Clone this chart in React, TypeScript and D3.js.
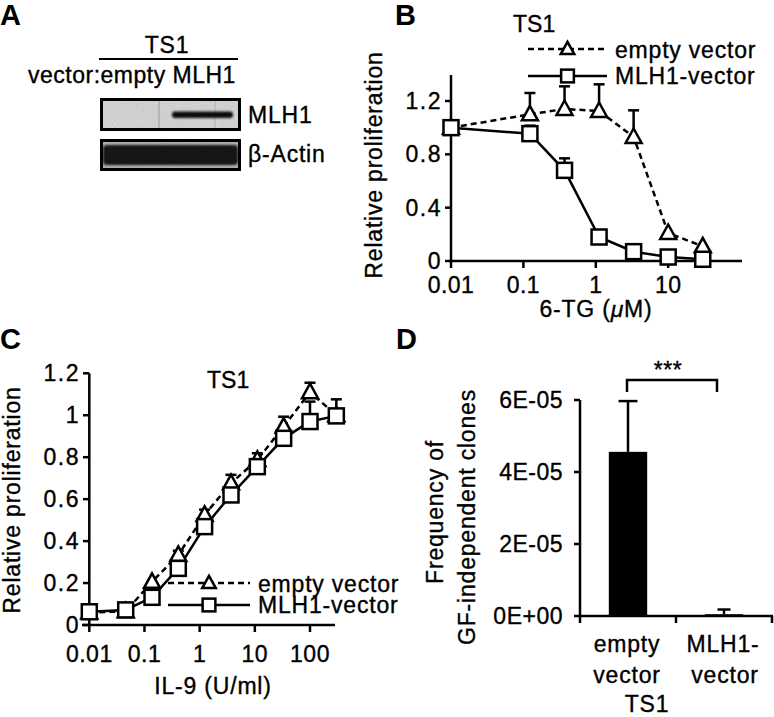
import React from "react";
import * as d3 from "d3";

// ---------- Data ----------
// Panel B: 6-TG dose response
const tgDose = [0.01, 0.123, 0.37, 1.11, 3.33, 10, 30];
const tgEmpty = [1.0, 1.1, 1.14, 1.125, 0.93, 0.21, 0.11];
const tgEmptyErr = [0, 0.16, 0.17, 0.2, 0.2, 0, 0];
const tgMLH1 = [1.0, 0.955, 0.68, 0.18, 0.07, 0.03, 0.013];
const tgMLH1Err = [0, 0.06, 0.09, 0, 0, 0, 0];
const tgXTicks = [0.01, 0.1, 1, 10];
const tgXTickLabels = ["0.01", "0.1", "1", "10"];
const tgYTicks = [0, 0.4, 0.8, 1.2];
const tgYTickLabels = ["0", "0.4", "0.8", "1.2"];

// Panel C: IL-9 dose response
const il9Dose = [0.01, 0.0457, 0.137, 0.41, 1.23, 3.7, 11.1, 33.3, 100, 300];
const il9Empty = [0.06, 0.065, 0.206, 0.334, 0.525, 0.676, 0.787, 0.946, 1.11, 1.0];
const il9EmptyErr = [0, 0, 0, 0.02, 0.025, 0.04, 0.032, 0.047, 0.045, 0];
const il9MLH1 = [0.063, 0.072, 0.132, 0.27, 0.469, 0.62, 0.755, 0.89, 0.97, 0.997];
const il9MLH1Err = [0, 0, 0, 0, 0, 0, 0, 0, 0.095, 0.079];
const il9XTicks = [0.01, 0.1, 1, 10, 100];
const il9XTickLabels = ["0.01", "0.1", "1", "10", "100"];
const il9YTicks = [0, 0.2, 0.4, 0.6, 0.8, 1, 1.2];
const il9YTickLabels = ["0", "0.2", "0.4", "0.6", "0.8", "1", "1.2"];

// Panel D: GF-independent clones
const dCats = ["empty", "MLH1"];
const dVals = [4.56e-5, 5e-7];
const dErr = [1.41e-5, 1.3e-6];
const dYTicks = [0, 2e-5, 4e-5, 6e-5];
const dYTickLabels = ["0E+00", "2E-05", "4E-05", "6E-05"];

const seriesNames = ["empty vector", "MLH1-vector"];

// ---------- Helpers ----------
const FONT = '"Liberation Sans", Arial, Helvetica, sans-serif';
const SW = 2.5;

function T({ x, y, children, anchor = "start", size = 23, rotate = 0, weight = "normal", ls = 0.8 }: any) {
  return (
    <text
      transform={`translate(${x},${y})${rotate ? ` rotate(${rotate})` : ""}`}
      textAnchor={anchor}
      fontSize={size}
      fontFamily={FONT}
      fontWeight={weight}
      letterSpacing={ls}
      fill="#000"
      stroke="#000"
      strokeWidth={weight === "bold" ? 0 : 0.35}
    >
      {children}
    </text>
  );
}

const triPath = (s = 1) => `M0,${-8.5 * s} L${8 * s},${6 * s} L${-8 * s},${6 * s} Z`;

function Tri({ x, y, s = 1 }: any) {
  return <path d={triPath(s)} transform={`translate(${x},${y})`} fill="#fff" stroke="#000" strokeWidth={SW} />;
}
function Sq({ x, y, s = 1 }: any) {
  const h = 7.5 * s;
  return <rect x={x - h} y={y - h} width={2 * h} height={2 * h} fill="#fff" stroke="#000" strokeWidth={SW} />;
}

function ErrBars({ xs, ys, errs, xScale, yScale, cap = 11 }: any) {
  return (
    <g stroke="#000" strokeWidth={SW}>
      {xs.map((d: number, i: number) => {
        if (!errs[i]) return null;
        const x = xScale(d);
        const y0 = yScale(ys[i]);
        const y1 = yScale(ys[i] + errs[i]);
        return (
          <g key={i}>
            <line x1={x} x2={x} y1={y0} y2={y1} />
            <line x1={x - cap / 2} x2={x + cap / 2} y1={y1} y2={y1} />
          </g>
        );
      })}
    </g>
  );
}

function DoseChart({ dose, emp, empErr, mlh, mlhErr, x, y }: any) {
  const line = d3
    .line<number>()
    .x((_, i) => x(dose[i]))
    .y((v) => y(v));
  return (
    <g>
      <ErrBars xs={dose} ys={emp} errs={empErr} xScale={x} yScale={y} />
      <ErrBars xs={dose} ys={mlh} errs={mlhErr} xScale={x} yScale={y} />
      <path d={line(emp) || ""} fill="none" stroke="#000" strokeWidth={SW} strokeDasharray="6,4" />
      <path d={line(mlh) || ""} fill="none" stroke="#000" strokeWidth={SW} />
      {dose.map((d: number, i: number) => (
        <Tri key={"t" + i} x={x(d)} y={y(emp[i])} />
      ))}
      {dose.map((d: number, i: number) => (
        <Sq key={"s" + i} x={x(d)} y={y(mlh[i])} />
      ))}
    </g>
  );
}

function Legend({ x1, x2, yA, yB, tx, baseA, baseB }: any) {
  const mx = (x1 + x2) / 2;
  return (
    <g>
      <line x1={x1} x2={x2} y1={yA} y2={yA} stroke="#000" strokeWidth={SW} strokeDasharray="6,4" />
      <Tri x={mx} y={yA} s={0.85} />
      <line x1={x1} x2={x2} y1={yB} y2={yB} stroke="#000" strokeWidth={SW} />
      <Sq x={mx} y={yB} s={0.85} />
      <T x={tx} y={baseA}>{seriesNames[0]}</T>
      <T x={tx} y={baseB}>{seriesNames[1]}</T>
    </g>
  );
}

export default function App() {
  // Panel B scales
  const xB = d3.scaleLog().domain([0.01, 100]).range([451, 740.6]);
  const yB = d3.scaleLinear().domain([0, 1.2]).range([261, 101]);
  // Panel C scales
  const xC = d3.scaleLog().domain([0.01, 100]).range([89.3, 310]);
  const yC = d3.scaleLinear().domain([0, 1.2]).range([625, 373.3]);
  // Panel D scales
  const xD = d3.scaleBand<string>().domain(dCats).range([580, 772]).padding(0);
  const yD = d3.scaleLinear().domain([0, 6e-5]).range([616, 400]);
  const barW = xD.bandwidth() * 0.4;

  return (
    <svg width={774} height={717} style={{ position: "absolute", left: 0, top: 0, background: "#fff" }}>
      <defs>
        <filter id="blur1" x="-10%" y="-50%" width="120%" height="200%">
          <feGaussianBlur stdDeviation="0.9" />
        </filter>
        <filter id="noise" x="0" y="0" width="100%" height="100%">
          <feTurbulence type="fractalNoise" baseFrequency="0.9" numOctaves="2" seed="4" />
          <feColorMatrix type="saturate" values="0" />
          <feComponentTransfer>
            <feFuncA type="table" tableValues="0.25 0.25" />
          </feComponentTransfer>
          <feComposite in2="SourceGraphic" operator="in" />
        </filter>
      </defs>
      <rect width={774} height={717} fill="#fff" />

      {/* Panel letters */}
      <T x={0} y={25} size={29} weight="bold" ls={0}>A</T>
      <T x={395} y={25} size={29} weight="bold" ls={0}>B</T>
      <T x={0} y={349} size={29} weight="bold" ls={0}>C</T>
      <T x={396} y={349} size={29} weight="bold" ls={0}>D</T>

      {/* ---------- Panel A (blot) ---------- */}
      <T x={167} y={53} anchor="middle">TS1</T>
      <line x1={99} x2={238} y1={59} y2={59} stroke="#000" strokeWidth={2.2} />
      <T x={28} y={83} ls={0.5}>vector:empty MLH1</T>
      {/* blot 1 */}
      <rect x={101.5} y={99.5} width={138} height={30} fill="#d6d6d6" />
      <rect x={101.5} y={99.5} width={138} height={30} fill="#888" filter="url(#noise)" />
      <line x1={159} x2={159} y1={101} y2={128} stroke="#9a9a9a" strokeWidth={1} />
      <line x1={215} x2={215} y1={101} y2={128} stroke="#b0b0b0" strokeWidth={1} />
      <rect x={172} y={111.5} width={61} height={6.5} rx={3} fill="#111" filter="url(#blur1)" />
      <rect x={101.5} y={99.5} width={138} height={30} fill="none" stroke="#000" strokeWidth={3} />
      {/* blot 2 */}
      <rect x={101.5} y={140.5} width={138} height={29} fill="#a9a9a9" />
      <rect x={101.5} y={140.5} width={138} height={29} fill="#666" filter="url(#noise)" />
      <rect x={103} y={145} width={135} height={20} rx={4} fill="#141414" filter="url(#blur1)" />
      <rect x={101.5} y={140.5} width={138} height={29} fill="none" stroke="#000" strokeWidth={3} />
      <T x={248} y={123}>MLH1</T>
      <T x={248} y={162}>β-Actin</T>

      {/* ---------- Panel B ---------- */}
      <T x={513} y={32} ls={0}>TS1</T>
      <Legend x1={528} x2={607} yA={49} yB={76} tx={615} baseA={58} baseB={84} />
      <g stroke="#000" strokeWidth={SW}>
        <line x1={451} x2={451} y1={yB(1.395)} y2={262} />
        <line x1={449.8} x2={742} y1={261} y2={261} />
        {tgYTicks.map((t) => (
          <line key={t} x1={445} x2={451} y1={yB(t)} y2={yB(t)} />
        ))}
        {tgXTicks.map((t) => (
          <line key={t} x1={xB(t)} x2={xB(t)} y1={261} y2={268} />
        ))}
      </g>
      {tgYTicks.map((t, i) => (
        <T key={t} x={442} y={yB(t) + 8} anchor="end" ls={1.5}>{tgYTickLabels[i]}</T>
      ))}
      {tgXTicks.map((t, i) => (
        <T key={t} x={xB(t)} y={293} anchor="middle" ls={0.5}>{tgXTickLabels[i]}</T>
      ))}
      <T x={596} y={317} anchor="middle">
        6-TG (<tspan fontStyle="italic">μ</tspan>M)
      </T>
      <T x={382} y={165} anchor="middle" rotate={-90}>Relative proliferation</T>
      <DoseChart dose={tgDose} emp={tgEmpty} empErr={tgEmptyErr} mlh={tgMLH1} mlhErr={tgMLH1Err} x={xB} y={yB} />

      {/* ---------- Panel C ---------- */}
      <T x={207} y={388} ls={0}>TS1</T>
      <g stroke="#000" strokeWidth={SW}>
        <line x1={89.3} x2={89.3} y1={yC(1.2)} y2={626} />
        <line x1={82} x2={335} y1={625} y2={625} />
        {il9YTicks.map((t) => (
          <line key={t} x1={83} x2={89.3} y1={yC(t)} y2={yC(t)} />
        ))}
        {il9XTicks.map((t) => (
          <line key={t} x1={xC(t)} x2={xC(t)} y1={625} y2={632} />
        ))}
      </g>
      {il9YTicks.map((t, i) => (
        <T key={t} x={80} y={yC(t) + 8} anchor="end" ls={1.5}>{il9YTickLabels[i]}</T>
      ))}
      {il9XTicks.map((t, i) => (
        <T key={t} x={xC(t)} y={662} anchor="middle" ls={0.5}>{il9XTickLabels[i]}</T>
      ))}
      <T x={213} y={694} anchor="middle">IL-9 (U/ml)</T>
      <T x={20} y={500} anchor="middle" rotate={-90}>Relative proliferation</T>
      <Legend x1={168} x2={250} yA={583} yB={605} tx={258} baseA={592} baseB={613} />
      <DoseChart dose={il9Dose} emp={il9Empty} empErr={il9EmptyErr} mlh={il9MLH1} mlhErr={il9MLH1Err} x={xC} y={yC} />

      {/* ---------- Panel D ---------- */}
      {dCats.map((c, i) => {
        const cx = (xD(c) as number) + xD.bandwidth() / 2;
        const top = yD(dVals[i]);
        const et = yD(dVals[i] + dErr[i]);
        const cap = i === 0 ? 19 : 13;
        return (
          <g key={c}>
            <line x1={cx} x2={cx} y1={top} y2={et} stroke="#000" strokeWidth={SW} />
            <line x1={cx - cap / 2} x2={cx + cap / 2} y1={et} y2={et} stroke="#000" strokeWidth={SW} />
            <rect x={cx - barW / 2} y={top} width={barW} height={Math.max(616 - top, 0)} fill="#000" />
          </g>
        );
      })}
      <g stroke="#000" strokeWidth={SW}>
        <line x1={580} x2={580} y1={400} y2={617} />
        <line x1={578.8} x2={773} y1={616} y2={616} />
        {dYTicks.map((t) => (
          <line key={t} x1={574} x2={580} y1={yD(t)} y2={yD(t)} />
        ))}
        {[580, 676, 772].map((t) => (
          <line key={t} x1={t} x2={t} y1={616} y2={623} />
        ))}
      </g>
      {dYTicks.map((t, i) => (
        <T key={t} x={563} y={yD(t) + 8} anchor="end" ls={0.5}>{dYTickLabels[i]}</T>
      ))}
      <path d="M627,392 L627,380 L717,380 L717,392" fill="none" stroke="#000" strokeWidth={SW} />
      <T x={668} y={378} anchor="middle" ls={0.5}>***</T>
      <T x={443} y={512} anchor="middle" rotate={-90}>Frequency of</T>
      <T x={475} y={517} anchor="middle" rotate={-90}>GF-independent clones</T>
      <T x={627} y={652} anchor="middle">empty</T>
      <T x={627} y={683} anchor="middle">vector</T>
      <T x={647} y={712} anchor="middle">TS1</T>
      <T x={723} y={652} anchor="middle">MLH1-</T>
      <T x={725} y={683} anchor="middle">vector</T>
    </svg>
  );
}
